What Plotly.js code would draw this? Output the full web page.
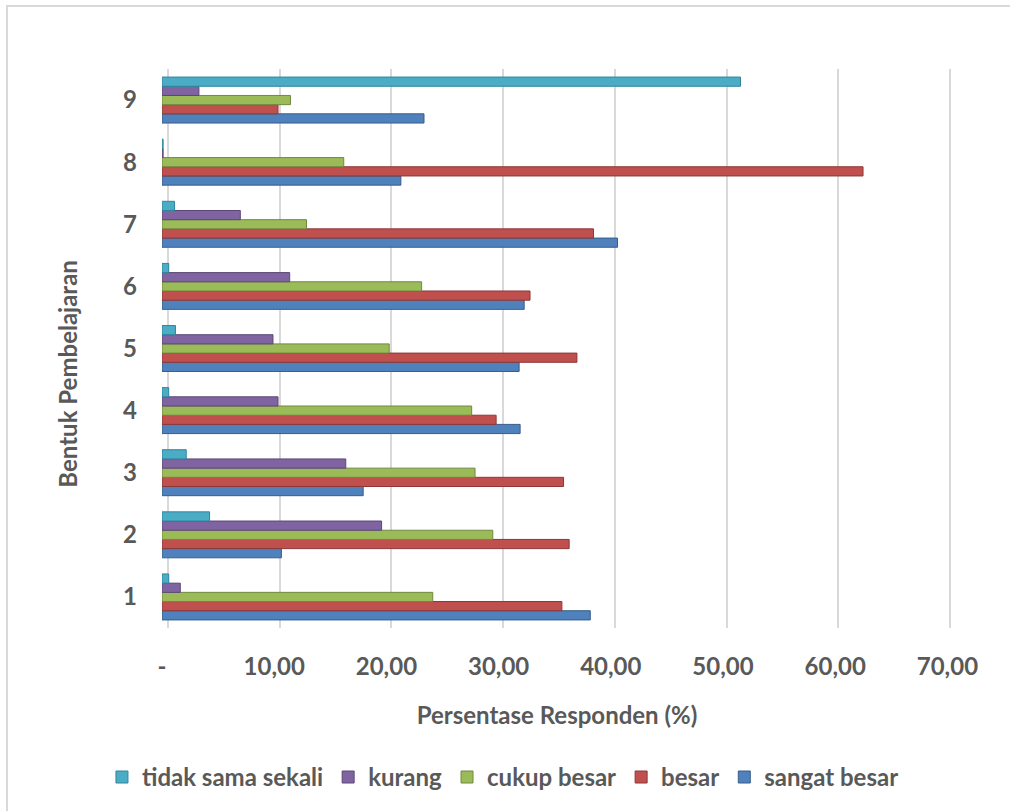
<!DOCTYPE html>
<html>
<head>
<meta charset="utf-8">
<script src="https://cdn.plot.ly/plotly-3.0.1.min.js"></script>
<style>
  html, body { margin: 0; padding: 0; background: #ffffff; }
  #frame {
    position: absolute; left: 6px; top: 5px; width: 1004px; height: 806px;
    border-top: 2px solid #d9d9d9; border-left: 2px solid #d9d9d9; box-sizing: border-box;
  }
  #chart { position: absolute; left: 0; top: 0; width: 1010px; height: 811px; }
</style>
</head>
<body>
<div id="frame"></div>
<div id="chart"></div>
<script>
// Learning forms (1-9) and the share of respondents (%) for each answer
const categories = ['1', '2', '3', '4', '5', '6', '7', '8', '9'];

const sangatBesar     = [38.17, 10.64, 17.93, 31.92, 31.83, 32.28, 40.60, 21.29, 23.35];
const besar           = [35.64, 36.29, 35.79, 29.78, 36.98, 32.80, 38.46, 62.48, 10.34];
const cukupBesar      = [24.13, 29.48, 27.90, 27.60, 20.25, 23.14, 12.88, 16.20, 11.45];
const kurang          = [1.63, 19.57, 16.38, 10.34, 9.89, 11.38, 6.98, 0.10, 3.29];
const tidakSamaSekali = [0.60, 4.24, 2.16, 0.60, 1.20, 0.60, 1.12, 0.10, 51.56];

const xTickVals = [0, 10, 20, 30, 40, 50, 60, 70];
const xTickText = ['-', '10,00', '20,00', '30,00', '40,00', '50,00', '60,00', '70,00'];

const seriesNames = ['sangat besar', 'besar', 'cukup besar', 'kurang', 'tidak sama sekali'];
const seriesData = [sangatBesar, besar, cukupBesar, kurang, tidakSamaSekali];
const fillColors = ['#4F81BD', '#C0504D', '#9BBB59', '#8064A2', '#4BACC6'];
const edgeColors = ['#385D8A', '#8C3836', '#71893F', '#5C4776', '#31859C'];

const textColor = '#595959';
const fontFamily = 'Lato, "Noto Sans", sans-serif';
const boldFont = { family: fontFamily, color: textColor, size: 24, weight: 'bold' };

const traces = seriesNames.map((name, i) => ({
  type: 'bar',
  orientation: 'h',
  name: name,
  y: categories,
  x: seriesData[i],
  marker: { color: fillColors[i], line: { color: edgeColors[i], width: 1 } },
  hoverinfo: 'x+name'
}));

// empty trace that carries the back-wall grid axis
traces.push({
  type: 'scatter', mode: 'markers', x: [], y: [],
  xaxis: 'x2', yaxis: 'y', showlegend: false, hoverinfo: 'skip'
});

const layout = {
  width: 1010,
  height: 811,
  paper_bgcolor: 'rgba(0,0,0,0)',
  plot_bgcolor: 'rgba(0,0,0,0)',
  margin: { l: 162, r: 58, t: 69, b: 182 },
  barmode: 'group',
  bargap: 0.26,
  bargroupgap: 0,
  font: boldFont,
  showlegend: true,
  legend: {
    orientation: 'h',
    traceorder: 'reversed',
    x: -0.076, xanchor: 'left',
    y: -0.265, yanchor: 'middle',
    font: boldFont,
    itemclick: false, itemdoubleclick: false
  },
  xaxis: {
    range: [0, 70.41],
    tickmode: 'array',
    tickvals: xTickVals,
    ticktext: xTickText,
    showgrid: false,
    zeroline: false,
    showline: false,
    ticks: '',
    ticklabelstandoff: 22,
    tickfont: boldFont,
    title: { text: 'Persentase Responden (%)', font: boldFont, standoff: 28 },
    fixedrange: true
  },
  xaxis2: {
    overlaying: 'x',
    range: [-0.537, 70.18],
    tickmode: 'array',
    tickvals: xTickVals,
    showticklabels: false,
    showgrid: true,
    gridcolor: '#d9d9d9',
    gridwidth: 2,
    zeroline: true,
    zerolinecolor: '#d9d9d9',
    zerolinewidth: 2,
    showline: false,
    ticks: '',
    fixedrange: true
  },
  yaxis: {
    type: 'category',
    range: [-0.5, 8.5],
    showgrid: false,
    zeroline: false,
    showline: false,
    ticks: '',
    ticklabelstandoff: 24,
    tickfont: boldFont,
    fixedrange: true
  },
  annotations: [{
    text: 'Bentuk Pembelajaran',
    textangle: -90,
    xref: 'paper', yref: 'paper',
    x: -0.119, xanchor: 'center',
    y: 0.455, yanchor: 'middle',
    showarrow: false,
    font: boldFont
  }]
};

Plotly.newPlot('chart', traces, layout, { displayModeBar: false, staticPlot: true });
</script>
</body>
</html>
